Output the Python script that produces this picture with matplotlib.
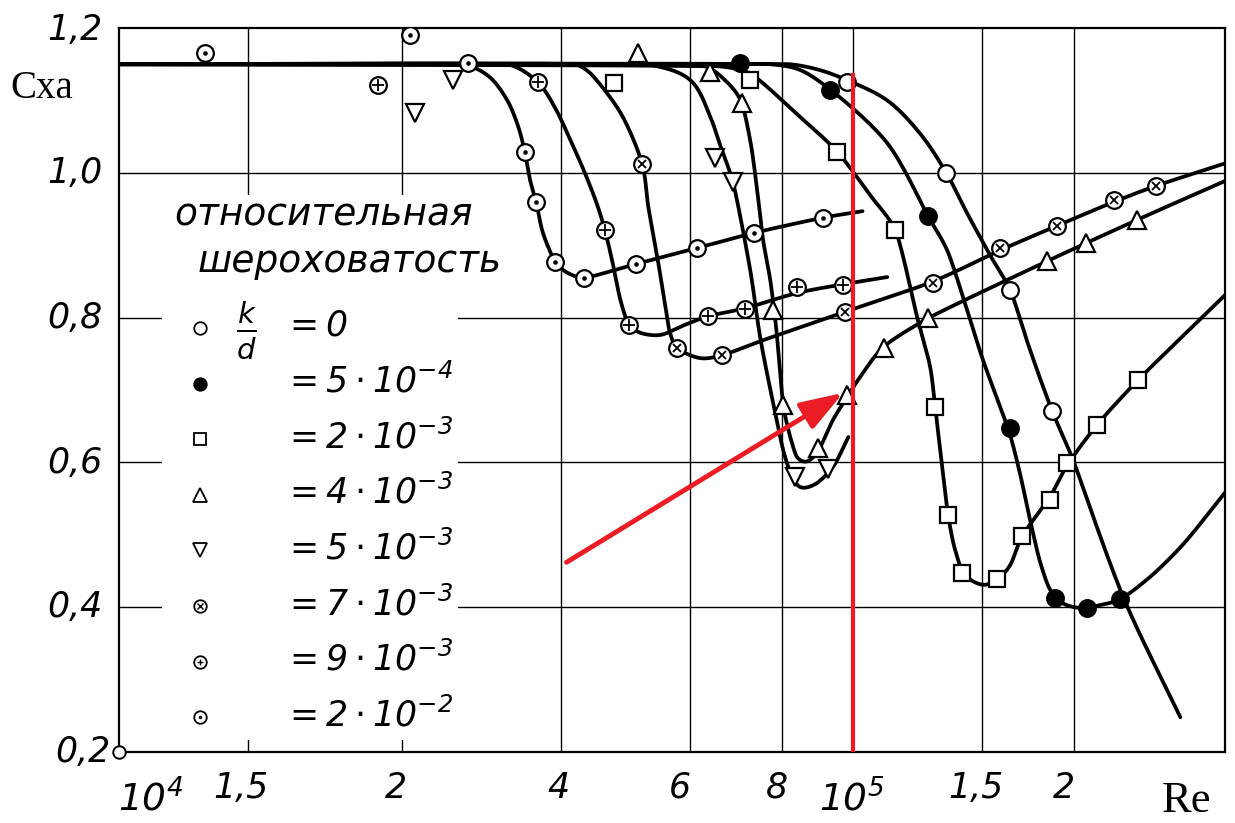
import numpy as np
import matplotlib
matplotlib.use('Agg')
import matplotlib.pyplot as plt
from matplotlib.patches import Rectangle

# ------------------------------------------------------------------ data
# k/d = 0   (open circle)
re_0 = [1.0e4, 8.2e4, 9.0e4, 9.81e4, 1.113e5, 1.234e5, 1.339e5, 1.43e5, 1.537e5,
        1.636e5, 1.742e5, 1.867e5, 1.994e5, 2.333e5, 2.79e5]
cx_0 = [1.15, 1.15, 1.142, 1.128, 1.100, 1.054, 1.000, 0.944, 0.886,
        0.838, 0.755, 0.671, 0.603, 0.414, 0.248]
re_0_m = [9.81e4, 1.339e5, 1.636e5, 1.867e5]
cx_0_m = [1.125, 1.000, 0.838, 0.671]

# k/d = 5e-4   (filled circle)
re_1 = [1.0e4, 7.7e4, 8.47e4, 9.36e4, 1.113e5, 1.265e5, 1.343e5, 1.43e5, 1.503e5,
        1.586e5, 1.636e5, 1.689e5, 1.742e5, 1.798e5, 1.855e5, 1.926e5, 2.039e5,
        2.171e5, 2.311e5, 2.539e5, 2.816e5, 3.232e5]
cx_1 = [1.15, 1.15, 1.142, 1.113, 1.041, 0.940, 0.893, 0.810, 0.741,
        0.677, 0.638, 0.583, 0.520, 0.462, 0.424, 0.406, 0.399,
        0.403, 0.411, 0.442, 0.487, 0.562]
re_1_m = [7.02e4, 9.31e4, 1.265e5, 1.636e5, 1.884e5, 2.084e5, 2.311e5]
cx_1_m = [1.152, 1.114, 0.940, 0.648, 0.413, 0.399, 0.411]

# k/d = 2e-3   (square)
re_2 = [1.0e4, 6.59e4, 7.24e4, 8.47e4, 9.51e4, 1.055e5, 1.141e5, 1.222e5, 1.273e5,
        1.293e5, 1.314e5, 1.347e5, 1.377e5, 1.421e5, 1.503e5, 1.572e5, 1.636e5,
        1.699e5, 1.855e5, 1.957e5, 2.15e5, 2.445e5, 3.232e5]
cx_2 = [1.15, 1.147, 1.137, 1.077, 1.029, 0.969, 0.921, 0.801, 0.732,
        0.677, 0.617, 0.527, 0.479, 0.444, 0.431, 0.438, 0.458,
        0.498, 0.553, 0.596, 0.652, 0.714, 0.834]
re_2_m = [4.73e4, 7.24e4, 9.51e4, 1.141e5, 1.293e5, 1.347e5, 1.408e5, 1.572e5,
          1.699e5, 1.855e5, 1.957e5, 2.15e5, 2.445e5]
cx_2_m = [1.124, 1.128, 1.029, 0.921, 0.677, 0.527, 0.447, 0.439,
          0.498, 0.548, 0.599, 0.652, 0.714]

# k/d = 4e-3   (triangle up)
re_3 = [1.0e4, 6.29e4, 6.69e4, 7.02e4, 7.24e4, 7.40e4, 7.54e4, 7.71e4, 7.86e4,
        8.03e4, 8.21e4, 8.39e4, 8.60e4, 8.82e4, 9.02e4, 9.39e4, 9.81e4, 1.022e5,
        1.099e5, 1.265e5, 1.838e5, 2.437e5, 3.232e5]
cx_3 = [1.15, 1.147, 1.128, 1.101, 1.045, 0.976, 0.907, 0.852, 0.783,
        0.679, 0.635, 0.607, 0.601, 0.607, 0.621, 0.659, 0.690, 0.718,
        0.759, 0.799, 0.878, 0.935, 0.990]
re_3_m = [5.10e4, 6.39e4, 7.06e4, 7.78e4, 8.03e4, 8.96e4, 9.81e4, 1.102e5,
          1.265e5, 1.838e5, 2.077e5, 2.437e5]
cx_3_m = [1.165, 1.139, 1.096, 0.810, 0.679, 0.620, 0.693, 0.758,
          0.799, 0.878, 0.903, 0.935]

# k/d = 5e-3   (triangle down)
re_4 = [1.0e4, 5.29e4, 6.0e4, 6.39e4, 6.59e4, 6.86e4, 7.24e4, 7.47e4, 7.78e4,
        8.03e4, 8.21e4, 8.47e4, 8.88e4, 9.39e4, 9.85e4]
cx_4 = [1.15, 1.149, 1.128, 1.077, 1.038, 0.987, 0.866, 0.773, 0.682,
        0.617, 0.587, 0.566, 0.570, 0.594, 0.635]
re_4_m = [2.53e4, 2.85e4, 6.49e4, 6.86e4, 8.34e4, 9.25e4]
cx_4_m = [1.083, 1.128, 1.020, 0.987, 0.580, 0.591]

# k/d = 7e-3   (circle with cross)
re_5 = [1.0e4, 4.18e4, 4.38e4, 4.82e4, 5.16e4, 5.26e4, 5.41e4, 5.55e4, 5.63e4,
        5.76e4, 6.19e4, 6.63e4, 7.5e4, 9.75e4, 1.285e5, 1.586e5, 1.897e5,
        2.268e5, 2.587e5, 3.232e5]
cx_5 = [1.15, 1.15, 1.138, 1.083, 1.012, 0.953, 0.884, 0.815, 0.779,
        0.758, 0.744, 0.748, 0.768, 0.808, 0.850, 0.893, 0.927,
        0.960, 0.982, 1.014]
re_5_m = [5.16e4, 5.76e4, 6.63e4, 9.75e4, 1.285e5, 1.586e5, 1.897e5, 2.268e5, 2.587e5]
cx_5_m = [1.012, 0.758, 0.748, 0.808, 0.848, 0.896, 0.927, 0.962, 0.982]

# k/d = 9e-3   (circle with plus)
re_6 = [1.0e4, 3.41e4, 3.72e4, 3.93e4, 4.12e4, 4.31e4, 4.48e4, 4.59e4, 4.70e4,
        4.82e4, 4.95e4, 5.13e4, 5.46e4, 5.90e4, 6.35e4, 7.13e4, 8.39e4, 9.69e4, 1.113e5]
cx_6 = [1.15, 1.149, 1.125, 1.089, 1.045, 1.000, 0.956, 0.921, 0.877,
        0.824, 0.790, 0.779, 0.776, 0.790, 0.802, 0.813, 0.834, 0.846, 0.856]
re_6_m = [2.25e4, 3.72e4, 4.59e4, 4.95e4, 6.35e4, 7.13e4, 8.39e4, 9.69e4]
cx_6_m = [1.121, 1.125, 0.921, 0.790, 0.802, 0.812, 0.842, 0.845]

# k/d = 2e-2   (circle with dot)
re_7 = [1.0e4, 2.7e4, 2.99e4, 3.2e4, 3.38e4, 3.5e4, 3.57e4, 3.63e4, 3.70e4,
        3.78e4, 3.93e4, 4.08e4, 4.30e4, 5.06e4, 6.13e4, 7.33e4, 9.10e4, 1.03e5]
cx_7 = [1.15, 1.15, 1.148, 1.132, 1.100, 1.063, 1.029, 0.990, 0.960,
        0.917, 0.877, 0.862, 0.855, 0.874, 0.896, 0.917, 0.938, 0.947]
re_7_m = [1.31e4, 2.49e4, 2.99e4, 3.57e4, 3.70e4, 3.93e4, 4.30e4, 5.06e4,
          6.13e4, 7.33e4, 9.10e4]
cx_7_m = [1.165, 1.190, 1.152, 1.029, 0.960, 0.877, 0.855, 0.874,
          0.896, 0.917, 0.938]

legend_values = ['0', '5\\cdot10^{-4}', '2\\cdot10^{-3}', '4\\cdot10^{-3}',
                 '5\\cdot10^{-3}', '7\\cdot10^{-3}', '9\\cdot10^{-3}', '2\\cdot10^{-2}']
legend_title = ['относительная', 'шероховатость']

x_ticks = [1.5e4, 2.43e4, 4e4, 6e4, 8e4, 1.5e5, 2e5]
x_tick_labels = ['1,5', '2', '4', '6', '8', '1,5', '2']
x_decades = [1e4, 1e5]
x_decade_labels = ['10^{4}', '10^{5}']
y_ticks = [0.2, 0.4, 0.6, 0.8, 1.0, 1.2]
y_tick_labels = ['0,2', '0,4', '0,6', '0,8', '1,0', '1,2']

# ------------------------------------------------------------------ style
plt.rcParams['mathtext.fontset'] = 'custom'
plt.rcParams['mathtext.rm'] = 'DejaVu Sans:italic'
plt.rcParams['mathtext.it'] = 'DejaVu Sans:italic'
RED = '#ec1c24'
W, H = 1235, 823


def smooth(re, c, n=16):
    """Smooth drawing path through the read points (Hermite, chord-limited tangents)."""
    u = (np.log10(re) - 4.0) * 734.0
    v = np.asarray(c, float) * 724.0
    P = np.column_stack([u, v])
    h = np.sqrt(((P[1:] - P[:-1]) ** 2).sum(1))
    D = (P[1:] - P[:-1]) / h[:, None]
    T = np.zeros_like(P)
    M = np.zeros(len(P))
    T[0], T[-1] = D[0], D[-1]
    M[0], M[-1] = h[0], h[-1]
    for i in range(1, len(P) - 1):
        t = D[i - 1] + D[i]
        T[i] = t / np.hypot(*t)
        M[i] = min(h[i - 1], h[i])
    out = [P[0]]
    s = np.linspace(0, 1, n + 1)[1:]
    h00 = 2 * s**3 - 3 * s**2 + 1
    h10 = s**3 - 2 * s**2 + s
    h01 = -2 * s**3 + 3 * s**2
    h11 = s**3 - s**2
    for i in range(len(P) - 1):
        a = T[i] * min(M[i], h[i])
        b = T[i + 1] * min(M[i + 1], h[i])
        seg = (h00[:, None] * P[i] + h10[:, None] * a
               + h01[:, None] * P[i + 1] + h11[:, None] * b)
        out.extend(seg)
    out = np.array(out)
    return 10 ** (4 + out[:, 0] / 734.0), out[:, 1] / 724.0


fig = plt.figure(figsize=(W / 100, H / 100), dpi=100)
ax = fig.add_axes([119 / W, 1 - 752 / H, (1225 - 119) / W, (752 - 28) / H])
ax.set_xscale('log')
ax.set_xlim(1e4, 3.21e5)
ax.set_ylim(0.2, 1.2)
ax.set_xticks([])
ax.set_yticks([])
ax.minorticks_off()
for sp in ax.spines.values():
    sp.set_linewidth(1.6)

# grid
for xv in x_ticks + x_decades[1:]:
    ax.axvline(xv, color='black', lw=1.0, zorder=1)
for yv in y_ticks[1:-1]:
    ax.axhline(yv, color='black', lw=1.0, zorder=1)
# blank area behind the legend
ax.add_patch(Rectangle(((162 - 119) / 1106, (752 - 740) / 724),
                       (458 - 162) / 1106, (740 - 195) / 724,
                       transform=ax.transAxes, facecolor='white',
                       edgecolor='none', zorder=1.5))

series = [
    (re_0, cx_0, re_0_m, cx_0_m, 'o', 'white', None),
    (re_1, cx_1, re_1_m, cx_1_m, 'o', 'black', None),
    (re_2, cx_2, re_2_m, cx_2_m, 's', 'white', None),
    (re_3, cx_3, re_3_m, cx_3_m, '^', 'white', None),
    (re_4, cx_4, re_4_m, cx_4_m, 'v', 'white', None),
    (re_5, cx_5, re_5_m, cx_5_m, 'o', 'white', 'x'),
    (re_6, cx_6, re_6_m, cx_6_m, 'o', 'white', '+'),
    (re_7, cx_7, re_7_m, cx_7_m, 'o', 'white', '.'),
]
msize = {'o': 12, 's': 11, '^': 13, 'v': 13}
inner = {'x': 5.5, '+': 8, '.': 4}
for re, cx, rm, cm, mk, fc, inn in series:
    xs, ys = smooth(re, cx)
    ax.plot(xs, ys, color='black', lw=2.7, zorder=3, solid_capstyle='round')
    ax.plot(rm, cm, ls='none', marker=mk, ms=msize[mk], mfc=fc, mec='black',
            mew=1.6, zorder=4)
    if inn:
        ax.plot(rm, cm, ls='none', marker=inn, ms=inner[inn], color='black',
                mew=1.3, zorder=5)

# corner ring at origin
ax.plot([1e4], [0.2], marker='o', ms=9, mfc='white', mec='black', mew=1.4,
        clip_on=False, zorder=6)

# red highlight line and arrow
ax.plot([1e5, 1e5], [0.2, 1.135], color=RED, lw=3.0, zorder=7)
ax.annotate('', xy=(9.69e4, 0.696), xytext=(4.07e4, 0.462),
            arrowprops=dict(arrowstyle='-|>,head_length=1.3,head_width=0.45',
                            color=RED, lw=3.5, shrinkA=0, shrinkB=0,
                            mutation_scale=20), zorder=8)


def ftext(px, py, s, **kw):
    fig.text(px / W, 1 - py / H, s, **kw)


ital = dict(style='italic', family='DejaVu Sans')

# y tick labels
y_px = [752, 607, 463, 318, 173, 30]
for yp, lab in zip(y_px, y_tick_labels):
    xr = 111 if lab == '0,2' else 103
    ftext(xr, yp, lab, ha='right', va='center', size=25, **ital)

# x tick labels
x_px = [241, 396, 558, 680, 777, 976, 1064]
for xp, lab in zip(x_px, x_tick_labels):
    ftext(xp, 788, lab, ha='center', va='center', size=25, **ital)
for xp, lab in zip([150, 852], x_decade_labels):
    ftext(xp, 798, '$' + lab + '$', ha='center', va='center', size=27)

ftext(10, 98, 'Cxa', family='Liberation Serif', size=28, va='baseline', ha='left')
ftext(1162, 812, 'Re', family='Liberation Serif', size=32, va='baseline', ha='left')

# legend
ftext(174, 216, legend_title[0], ha='left', va='center', size=27, **ital)
ftext(198, 262, legend_title[1], ha='left', va='center', size=27, **ital)
leg_mk = [('o', 'white', None), ('o', 'black', None), ('s', 'white', None),
          ('^', 'white', None), ('v', 'white', None), ('o', 'white', 'x'),
          ('o', 'white', '+'), ('o', 'white', '.')]
for i, ((mk, fc, inn), val) in enumerate(zip(leg_mk, legend_values)):
    yp = 328 + 55.6 * i
    fx, fy = 200 / W, 1 - yp / H
    fig.lines.append(plt.Line2D([fx], [fy], transform=fig.transFigure, marker=mk,
                                ms=9 if mk in 'os' else 10, mfc=fc, mec='black',
                                mew=1.3, ls='none'))
    if inn:
        fig.lines.append(plt.Line2D([fx], [fy], transform=fig.transFigure,
                                    marker=inn, ms=4 if inn != '.' else 3,
                                    color='black', mew=1.0, ls='none'))
    ftext(283, yp - 2, '$=' + val + '$', ha='left', va='center', size=25)
ftext(246, 330, r'$\frac{k}{d}$', ha='center', va='center', size=30)

fig.savefig('out.png', dpi=100)
